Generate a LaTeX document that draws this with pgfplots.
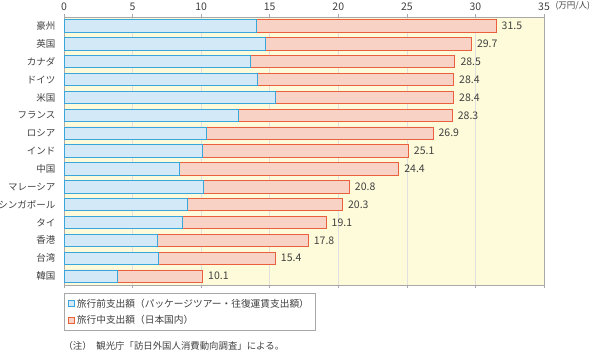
\documentclass[border=0pt]{standalone}
\usepackage{pgfplots}
\pgfplotsset{compat=1.18}
\usepackage{fontspec}
\setmainfont{Noto Sans CJK JP}
\definecolor{bgy}{HTML}{FEFBDA}
\definecolor{bluef}{HTML}{D3E9F8}
\definecolor{bluee}{HTML}{3AA6DC}
\definecolor{redf}{HTML}{F9D2C6}
\definecolor{rede}{HTML}{E8603E}
\definecolor{txt}{HTML}{404040}
\definecolor{axg}{HTML}{A8A8A8}
\begin{document}
\begin{tikzpicture}
\path[use as bounding box] (0,0) rectangle (599pt,-353pt);
\begin{axis}[
  at={(64pt,-17pt)}, anchor=north west,
  scale only axis, width=480pt, height=268pt,
  xbar, bar width=0.69, bar shift=0pt,
  xmin=0, xmax=35, ymin=-0.5, ymax=14.5,
  y dir=reverse,
  xtick={0,5,...,35},
  xticklabel pos=top,
  ytick={0,...,14},
  yticklabels={豪州,英国,カナダ,ドイツ,米国,フランス,ロシア,インド,中国,マレーシア,シンガポール,タイ,香港,台湾,韓国},
  y tick style={draw=none},
  x tick style={draw=axg, line width=0.5pt},
  tick align=outside, major tick length=3pt,
  xmajorgrids, grid style={draw=black!12, line width=0.5pt},
  axis line style={draw=axg, line width=0.7pt},
  axis background/.style={fill=bgy},
  /pgf/number format/assume math mode=true,
  tick label style={font=\fontsize{9.5}{11}\selectfont, text=txt},
  xticklabel style={font=\fontsize{10.5}{12}\selectfont},
  yticklabel style={xshift=-2pt},
  reverse legend,
  legend style={at={(0,0)}, anchor=north west, yshift=-8pt, draw=axg, fill=white,
    font=\fontsize{9.7}{11}\selectfont, text=txt, cells={anchor=west},
    inner xsep=4pt, inner ysep=3.5pt, row sep=2.5pt},
  legend image code/.code={\draw[#1, line width=0.7pt] (0pt,-3pt) rectangle (6pt,3pt);},
  clip=false,
]
% totals (red = pre + during), drawn first
\addplot[fill=redf, draw=rede, line width=0.8pt,
  nodes near coords,
  nodes near coords style={font=\fontsize{10.5}{12}\selectfont, text=txt, anchor=west, xshift=2pt,
    /pgf/number format/fixed, /pgf/number format/fixed zerofill, /pgf/number format/precision=1, /pgf/number format/assume math mode=true},
] coordinates {
(31.5,0) (29.7,1) (28.5,2) (28.4,3) (28.4,4) (28.3,5) (26.9,6) (25.1,7) (24.4,8) (20.8,9) (20.3,10) (19.1,11) (17.8,12) (15.4,13) (10.1,14)};
\addlegendentry{旅行中支出額（日本国内）}
% pre-travel spending, drawn over
\addplot[fill=bluef, draw=bluee, line width=0.8pt] coordinates {
(14.0,0) (14.7,1) (13.6,2) (14.1,3) (15.4,4) (12.7,5) (10.4,6) (10.1,7) (8.4,8) (10.2,9) (9.0,10) (8.6,11) (6.8,12) (6.9,13) (3.9,14)};
\addlegendentry{旅行前支出額（パッケージツアー・往復運賃支出額）}
\node[anchor=west, font=\fontsize{8.5}{10}\selectfont, text=txt] at (rel axis cs:1,1) [xshift=8pt, yshift=11pt] {(万円/人)};
\end{axis}
\node[anchor=west, font=\fontsize{9.4}{11}\selectfont, text=txt] at (60pt,-346pt) {（注）\hspace{0.5em}観光庁「訪日外国人消費動向調査」による。};
\end{tikzpicture}
\end{document}
